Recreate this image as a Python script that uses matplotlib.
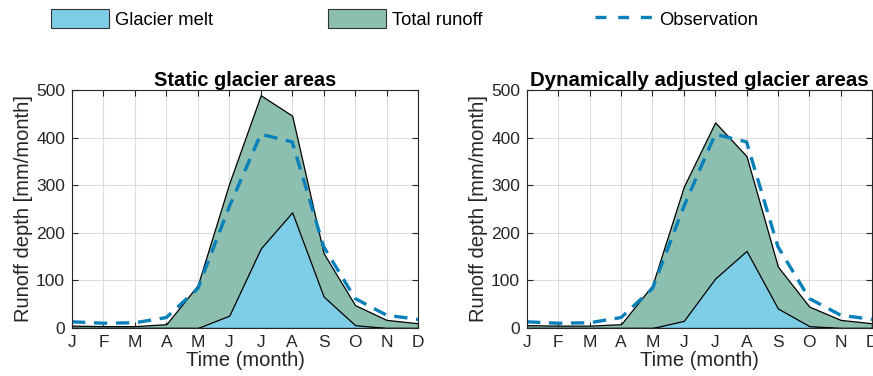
import numpy as np
import matplotlib
matplotlib.use("Agg")
import matplotlib.pyplot as plt
from matplotlib.patches import Patch
from matplotlib.lines import Line2D

plt.rcParams['font.family'] = ['Liberation Sans', 'DejaVu Sans']

# months
months = np.arange(1, 13)
month_labels = ['J', 'F', 'M', 'A', 'M', 'J', 'J', 'A', 'S', 'O', 'N', 'D']

# runoff depth [mm/month]
static_total = [5, 4, 4, 8, 90, 304, 489, 446, 157, 48, 17, 10]
static_melt = [0, 0, 0, 0, 0, 26, 167, 243, 66, 6, 0, 0]
dynamic_total = [6, 5, 5, 8, 90, 297, 432, 361, 129, 45, 17, 10]
dynamic_melt = [0, 0, 0, 0, 0, 15, 104, 162, 41, 4, 0, 0]
observation = [13, 10, 11, 22, 83, 255, 407, 391, 171, 62, 27, 18]

titles = ['Static glacier areas', 'Dynamically adjusted glacier areas']

# colours
c_melt = '#7ecde6'
c_total = '#8dbfb1'
c_obs = '#0a80ba'
c_axis = '#262626'

fig = plt.figure(figsize=(8.73, 3.76), dpi=100)
ax1 = fig.add_axes([72 / 873, 48 / 376, 346 / 873, 238 / 376])
ax2 = fig.add_axes([527 / 873, 48 / 376, 345 / 873, 238 / 376])


def draw_panel(ax, total, melt, title, title_size):
    ax.fill_between(months, 0, total, facecolor=c_total, edgecolor='black',
                    linewidth=0.9, zorder=2)
    ax.fill_between(months, 0, melt, facecolor=c_melt, edgecolor='black',
                    linewidth=0.9, zorder=3)
    ax.plot(months, observation, color=c_obs, linestyle=(0, (4, 2.6)),
            linewidth=2.4, zorder=4)
    ax.set_xlim(1, 12)
    ax.set_ylim(0, 500)
    ax.set_xticks(months)
    ax.set_xticklabels(month_labels)
    ax.set_yticks(np.arange(0, 501, 100))
    ax.grid(True, color='#dcdcdc', linewidth=0.8, zorder=0)
    ax.set_axisbelow(True)
    ax.tick_params(direction='in', top=True, right=True, length=4,
                   color=c_axis, labelcolor=c_axis, labelsize=12.5, pad=5)
    for s in ax.spines.values():
        s.set_color(c_axis)
        s.set_linewidth(0.8)
        s.set_zorder(5)
    ax.set_xlabel('Time (month)', fontsize=14.5, color=c_axis, labelpad=1)
    ax.set_ylabel('Runoff depth [mm/month]', fontsize=14.5, color=c_axis,
                  labelpad=2)
    ax.set_title(title, fontsize=title_size, fontweight='bold', pad=3)


draw_panel(ax1, static_total, static_melt, titles[0], 14.4)
draw_panel(ax2, dynamic_total, dynamic_melt, titles[1], 14.7)

# legend across the top
handles = [
    Patch(facecolor=c_melt, edgecolor='#333333', linewidth=0.8),
    Patch(facecolor=c_total, edgecolor='#333333', linewidth=0.8),
    Line2D([0], [0], color=c_obs, linestyle=(0, (3.3, 3.5)), linewidth=2.4),
]
labels = ['Glacier melt', 'Total runoff', 'Observation']
xpos = [51, 328, 595]
for h, lab, x in zip(handles, labels, xpos):
    fig.legend([h], [lab], loc='center left',
               bbox_to_anchor=(x / 873, 1 - 19 / 376), frameon=False,
               fontsize=13.2, handlelength=3.15, handleheight=1.2,
               handletextpad=0.33, borderpad=0, borderaxespad=0)

fig.savefig('out.png', dpi=100)
